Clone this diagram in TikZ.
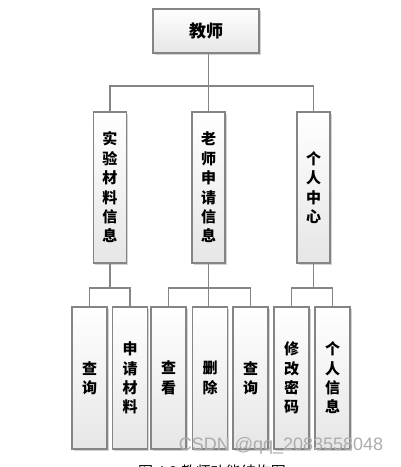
\documentclass[tikz,border=0pt]{standalone}
\usepackage{fontspec}
\newfontfamily\cjk{Noto Sans CJK SC}
\newfontfamily\wmfont{Liberation Sans}
\usetikzlibrary{shadows}
\definecolor{edge}{HTML}{858585}
\definecolor{shadeb}{HTML}{E6E6E6}
\tikzset{
  box/.style={draw=edge, line width=1.4pt, top color=white, bottom color=shadeb,
    drop shadow={shadow xshift=1.6pt, shadow yshift=-1.6pt, opacity=0.35, fill=gray},
    inner sep=0pt, align=center, font=\cjk\bfseries\fontsize{15}{19.4}\selectfont},
  topbox/.style={box, minimum width=106pt, minimum height=44pt, font=\cjk\bfseries\fontsize{17}{17}\selectfont},
  midbox/.style={box, minimum width=33pt, minimum height=151pt},
  leafbox/.style={box, minimum width=35pt, minimum height=142pt},
  link/.style={draw=edge, line width=1.4pt}
}
\begin{document}
\begin{tikzpicture}[x=1pt,y=-1pt]
\useasboundingbox (0,0) rectangle (401,467);
\node[topbox] (top) at (206,31) {教师};
\node[midbox] (a) at (110,187.5) {实\\验\\材\\料\\信\\息};
\node[midbox] (b) at (208.5,187.5) {老\\师\\申\\请\\信\\息};
\node[midbox] (c) at (313.5,187.5) {个\\人\\中\\心};
\node[leafbox] (l1) at (89.5,378) {查\\询};
\node[leafbox] (l2) at (130,378) {申\\请\\材\\料};
\node[leafbox] (l3) at (168.5,378) {查\\看};
\node[leafbox] (l4) at (210,378) {删\\除};
\node[leafbox] (l5) at (250.5,378) {查\\询};
\node[leafbox] (l6) at (291.5,378) {修\\改\\密\\码};
\node[leafbox] (l7) at (332.5,378) {个\\人\\信\\息};
\coordinate (y1) at (0,86);
\coordinate (y2) at (0,288);
\draw[link] (top.south -| b.north) -- (b.north);
\draw[link] (a.north) |- (b.north |- y1) -| (c.north);
\draw[link] (a.south) -- (a.south |- y2);
\draw[link] (l1.north) |- (a.south |- y2) -| (l2.north);
\draw[link] (b.south) -- (b.south |- y2);
\draw[link] (l3.north) |- (b.south |- y2) -| (l5.north);
\draw[link] (b.south |- y2) -- (b.south |- l4.north);
\draw[link] (c.south) -- (c.south |- y2);
\draw[link] (l6.north) |- (c.south |- y2) -| (l7.north);
\node[font=\wmfont\fontsize{18}{18}\selectfont, text=gray!65] (wm) at (281,446) {CSDN @qq\_2083558048};
\node[font=\cjk\fontsize{15}{15}\selectfont, anchor=north] (cap) at (212,461) {图 4.3 教师功能结构图};
\end{tikzpicture}
\end{document}
